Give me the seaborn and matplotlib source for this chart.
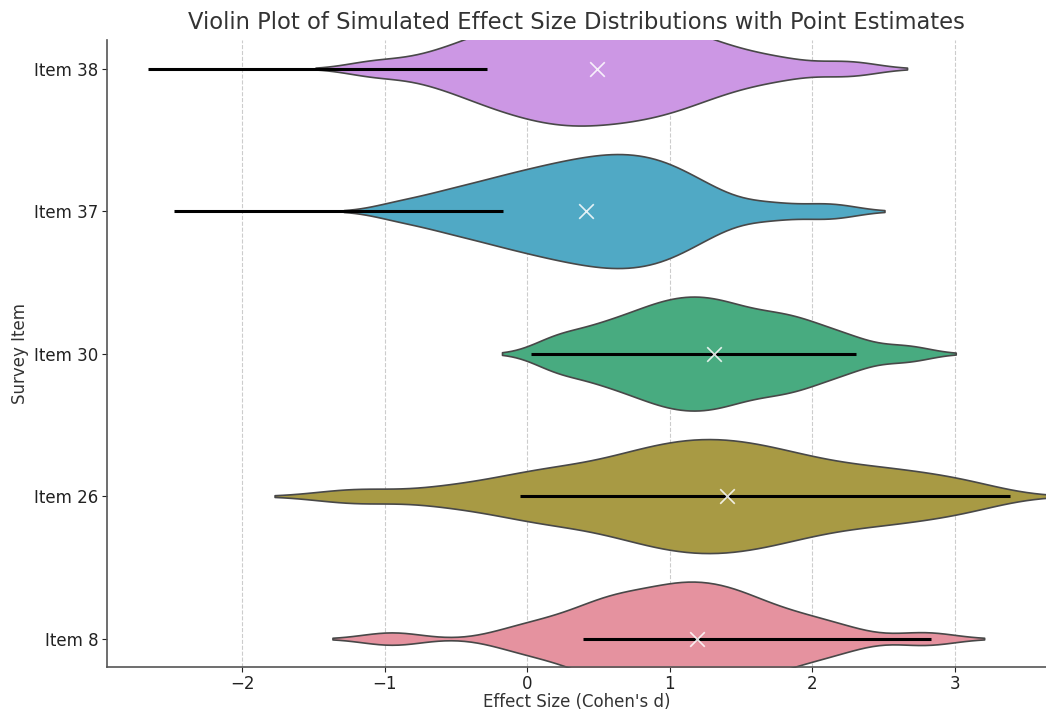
import numpy as np
import pandas as pd
import matplotlib
matplotlib.use("Agg")
import matplotlib.pyplot as plt
import seaborn as sns

# survey items, top to bottom
items = ["Item 38", "Item 37", "Item 30", "Item 26", "Item 8"]
colors = ["#cc97e4", "#50a9c5", "#48ab80", "#a89a44", "#e5929f"]

# point estimates and interval ends
point_est = [0.49, 0.41, 1.31, 1.40, 1.19]
ci_low = [-2.66, -2.48, 0.03, -0.05, 0.39]
ci_high = [-0.28, -0.17, 2.31, 3.39, 2.83]

# simulated effect sizes (Cohen's d) per item
sim_38 = [-1.07, -0.72, -0.52, -0.40, -0.29, -0.21, -0.13, -0.05, 0.02,
          0.08, 0.15, 0.21, 0.27, 0.33, 0.39, 0.45, 0.51, 0.58, 0.64,
          0.70, 0.77, 0.84, 0.91, 0.98, 1.06, 1.15, 1.24, 1.38, 1.54,
          1.80, 2.25]
sim_37 = [-0.90, -0.64, -0.51, -0.37, -0.26, -0.17, -0.08, 0.00, 0.08,
          0.15, 0.22, 0.28, 0.35, 0.41, 0.47, 0.53, 0.58, 0.64, 0.70,
          0.75, 0.81, 0.87, 0.93, 0.99, 1.06, 1.13, 1.24, 1.37, 1.70,
          2.12]
sim_30 = [0.17, 0.25, 0.43, 0.52, 0.61, 0.70, 0.78, 0.84, 0.90,
          0.96, 1.02, 1.07, 1.12, 1.17, 1.23, 1.28, 1.33, 1.39, 1.44,
          1.51, 1.58, 1.66, 1.73, 1.80, 1.88, 1.95, 2.05, 2.18, 2.32,
          2.66]
sim_26 = [-1.20, -0.58, -0.22, -0.01, 0.14, 0.29, 0.44, 0.59, 0.70, 0.79,
          0.88, 0.97, 1.05, 1.13, 1.20, 1.28, 1.36, 1.43, 1.51, 1.59,
          1.68, 1.78, 1.87, 1.97, 2.11, 2.26, 2.40, 2.55, 2.72, 2.92,
          3.15]
sim_8 = [-0.95, -0.11, 0.09, 0.23, 0.37, 0.46, 0.53, 0.59, 0.66, 0.73,
         0.79, 0.86, 0.93, 0.99, 1.04, 1.09, 1.14, 1.19, 1.25, 1.31,
         1.36, 1.42, 1.48, 1.54, 1.60, 1.71, 1.81, 1.92, 2.06, 2.25,
         2.79]

sims = [sim_38, sim_37, sim_30, sim_26, sim_8]
df = pd.DataFrame({
    "item": np.repeat(items, [len(s) for s in sims]),
    "d": np.concatenate(sims),
})

sns.set_style("ticks")
plt.rcParams["font.family"] = ["DejaVu Sans"]

fig, ax = plt.subplots(figsize=(10.46, 7.15), dpi=100)
fig.subplots_adjust(left=0.102, right=1.0, bottom=0.067, top=0.944)

sns.violinplot(data=df, x="d", y="item", hue="item", order=items,
               hue_order=items, palette=colors, saturation=1, cut=2,
               bw_adjust=0.55, density_norm="width", inner=None,
               linewidth=1.2, linecolor="#484848", legend=False, ax=ax)

# intervals and point estimates
ax.hlines(items, ci_low, ci_high, color="black", lw=2.2, zorder=3)
ax.scatter(point_est, items, marker="x", color="white", s=110,
           linewidths=1.2, alpha=0.85, zorder=4)

ax.set_xlim(-2.95, 3.64)
ax.set_ylim(4.2, -0.2)
ax.set_xticks([-2, -1, 0, 1, 2, 3])
ax.xaxis.grid(True, linestyle="--", color="#cccccc", lw=0.8)
ax.set_axisbelow(True)
for s in ["top", "right"]:
    ax.spines[s].set_visible(False)
for s in ["left", "bottom"]:
    ax.spines[s].set_color("#555555")
    ax.spines[s].set_linewidth(1.2)
ax.tick_params(labelsize=12, colors="#222222", length=3.5, pad=2.5)

ax.set_xlabel("Effect Size (Cohen's d)", fontsize=12, color="#333333",
              labelpad=0)
ax.set_ylabel("Survey Item", fontsize=12, color="#333333")
ax.set_title("Violin Plot of Simulated Effect Size Distributions with Point Estimates",
             fontsize=16.3, color="#333333", pad=8)

fig.savefig("out.png", dpi=100)
